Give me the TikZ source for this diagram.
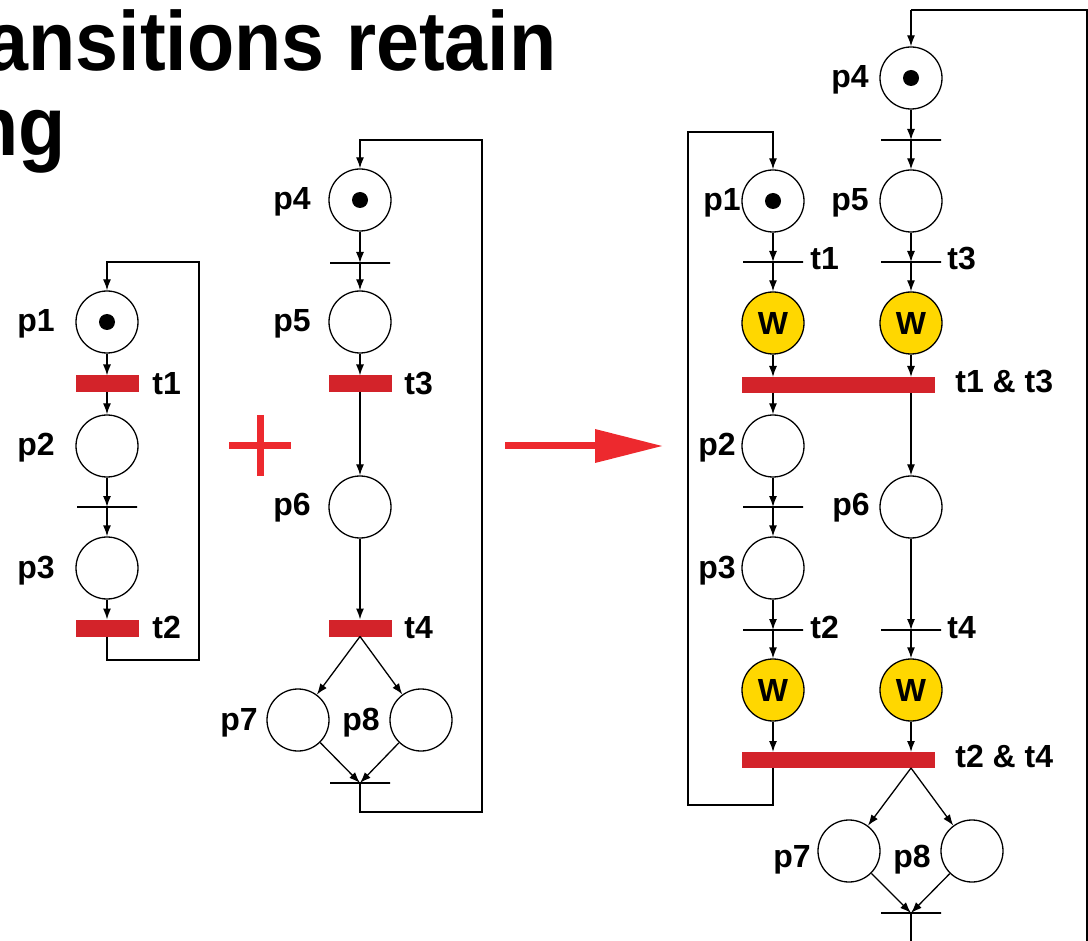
\documentclass[tikz,border=0pt]{standalone}
\usepackage{fontspec}
\setmainfont{Liberation Sans}
\usetikzlibrary{arrows.meta}
\definecolor{barred}{RGB}{211,35,42}
\definecolor{arrred}{RGB}{237,41,46}
\definecolor{wyellow}{RGB}{255,215,0}
\tikzset{
  place/.style={circle, draw, line width=0.65pt, minimum size=31pt, inner sep=0pt},
  wplace/.style={place, fill=wyellow, font=\fontsize{16}{18}\selectfont\bfseries},
  redbar/.style={fill=barred, minimum width=31.5pt, minimum height=8.5pt, inner sep=0pt, outer sep=0pt},
  longbar/.style={redbar, minimum width=96.5pt, minimum height=8pt},
  tline/.style={draw, line width=0.65pt, minimum width=30pt, minimum height=0pt, inner sep=0pt},
  lbl/.style={font=\fontsize{16}{18}\selectfont\bfseries, inner sep=0pt},
  titletext/.style={font=\fontsize{42}{42}\selectfont\bfseries, inner sep=0pt},
  arr/.style={line width=0.65pt, -{Latex[length=5.5pt,width=4pt]}},
  conn/.style={line width=0.65pt},
  tok/.style={fill=black}
}
\begin{document}
\begin{tikzpicture}[x=0.5pt,y=-0.5pt]
\useasboundingbox (0,0) rectangle (1088,941);

% title
\node[titletext, anchor=base east] (title1) at (557,71) {\scalebox{0.92}[1]{ransitions retain}};
\node[titletext, anchor=base east] (title2) at (66,156) {\scalebox{0.92}[1]{ng}};

% ---------------- left net ----------------
\node[place] (p1) at (107,322) {};
\node[redbar] (t1) at (107,384) {};
\node[place] (p2) at (107,446) {};
\node[tline] (ta) at (107,507) {};
\node[place] (p3) at (107,568) {};
\node[redbar] (t2) at (107,628) {};
\fill[tok] (p1.center) circle (4pt);
\coordinate (la) at (107,262);
\coordinate (lb) at (199,262);
\coordinate (lc) at (199,660);
\coordinate (ld) at (107,660);
\draw[arr] (p1) -- (t1);
\draw[arr] (t1) -- (p2);
\draw[arr] (p2) -- (ta.center);
\draw[arr] (ta.center) -- (p3);
\draw[arr] (p3) -- (t2);
\draw[arr] (t2.south) -- (ld) -- (lc) -- (lb) -- (la) -- (p1);
\node[lbl, anchor=base east] (lp1) at (55,332) {p1};
\node[lbl, anchor=base east] (lp2) at (55,456) {p2};
\node[lbl, anchor=base east] (lp3) at (55,578) {p3};
\node[lbl, anchor=base west] (lt1) at (152,394) {t1};
\node[lbl, anchor=base west] (lt2) at (152,638) {t2};

% plus
\draw[arrred, line width=3.5pt] (229,446) -- (291,446) (260,415) -- (260,476);

% ---------------- middle net ----------------
\node[place] (m4) at (360,200) {};
\node[tline] (tb) at (360,263) {};
\node[place] (m5) at (360,322) {};
\node[redbar] (t3) at (360,384) {};
\node[place] (m6) at (360,507) {};
\node[redbar] (t4) at (360,628) {};
\node[place] (m7) at (298,720) {};
\node[place] (m8) at (421,720) {};
\node[tline] (tc) at (360,783) {};
\fill[tok] (m4.center) circle (4pt);
\coordinate (ma) at (360,140);
\coordinate (mb) at (482,140);
\coordinate (mc) at (482,812);
\coordinate (md) at (360,812);
\draw[arr] (m4) -- (tb.center);
\draw[arr] (tb.center) -- (m5);
\draw[arr] (m5) -- (t3);
\draw[arr] (t3) -- (m6);
\draw[arr] (m6) -- (t4);
\draw[arr] (t4.south) -- (m7);
\draw[arr] (t4.south) -- (m8);
\draw[arr] (m7) -- (tc.center);
\draw[arr] (m8) -- (tc.center);
\draw[arr] (tc.center) -- (md) -- (mc) -- (mb) -- (ma) -- (m4);
\node[lbl, anchor=base east] (lm4) at (311,210) {p4};
\node[lbl, anchor=base east] (lm5) at (311,332) {p5};
\node[lbl, anchor=base east] (lm6) at (311,516) {p6};
\node[lbl, anchor=base east] (lm7) at (258,730) {p7};
\node[lbl, anchor=base east] (lm8) at (380,730) {p8};
\node[lbl, anchor=base west] (lt3) at (404,394) {t3};
\node[lbl, anchor=base west] (lt4) at (404,638) {t4};

% big arrow
\coordinate (ba) at (505,446);
\coordinate (bb) at (597,446);
\coordinate (bt) at (662,446);
\draw[arrred, line width=3.5pt] (ba) -- (bb);
\fill[arrred] (595,429) -- (bt) -- (595,463) -- cycle;

% ---------------- right net ----------------
\node[place] (r4) at (911,78) {};
\node[tline] (rd) at (911,140) {};
\node[place] (r5) at (911,201) {};
\node[tline] (rt3) at (911,262) {};
\node[wplace] (w3) at (911,323) {W};
\node[place] (r1) at (773,201) {};
\node[tline] (rt1) at (773,262) {};
\node[wplace] (w1) at (773,323) {W};
\node[longbar] (b13) at (838.5,385) {};
\node[place] (r2) at (773,446) {};
\node[tline] (re) at (773,507) {};
\node[place] (r3) at (773,568) {};
\node[tline] (rt2) at (773,630) {};
\node[wplace] (w2) at (773,690) {W};
\node[place] (r6) at (911,507) {};
\node[tline] (rt4) at (911,630) {};
\node[wplace] (w4) at (911,690) {W};
\node[longbar] (b24) at (838.5,760) {};
\node[place] (r7) at (849,851) {};
\node[place] (r8) at (972,851) {};
\node[tline] (rf) at (911,913) {};
\fill[tok] (r4.center) circle (4pt);
\fill[tok] (r1.center) circle (4pt);

\coordinate (ra) at (911,10);
\coordinate (rb) at (1087,10);
\coordinate (rc) at (1087,960);
\coordinate (rdd) at (911,960);
\coordinate (qa) at (773,132);
\coordinate (qb) at (688,132);
\coordinate (qc) at (688,805);
\coordinate (qd) at (773,805);

\draw[arr] (r4) -- (rd.center);
\draw[arr] (rd.center) -- (r5);
\draw[arr] (r5) -- (rt3.center);
\draw[arr] (rt3.center) -- (w3);
\draw[arr] (w3) -- (w3 |- b13.north);
\draw[arr] (r1) -- (rt1.center);
\draw[arr] (rt1.center) -- (w1);
\draw[arr] (w1) -- (w1 |- b13.north);
\draw[arr] (b13.south -| r2) -- (r2);
\draw[arr] (b13.south -| r6) -- (r6);
\draw[arr] (r2) -- (re.center);
\draw[arr] (re.center) -- (r3);
\draw[arr] (r3) -- (rt2.center);
\draw[arr] (rt2.center) -- (w2);
\draw[arr] (r6) -- (rt4.center);
\draw[arr] (rt4.center) -- (w4);
\draw[arr] (w2) -- (w2 |- b24.north);
\draw[arr] (w4) -- (w4 |- b24.north);
\draw[arr] (b24.south -| w4) -- (r7);
\draw[arr] (b24.south -| w4) -- (r8);
\draw[arr] (r7) -- (rf.center);
\draw[arr] (r8) -- (rf.center);
\draw[conn] (rf.center) -- (rdd) -- (rc) -- (rb) -- (ra);
\draw[arr] (ra) -- (r4);
\draw[arr] (b24.south -| w2) -- (qd) -- (qc) -- (qb) -- (qa) -- (r1);

\node[lbl, anchor=base east] (lr4) at (869,88) {p4};
\node[lbl, anchor=base east] (lr1) at (741,211) {p1};
\node[lbl, anchor=base east] (lr5) at (869,211) {p5};
\node[lbl, anchor=base west] (lrt1) at (810,270) {t1};
\node[lbl, anchor=base west] (lrt3) at (947,270) {t3};
\node[lbl, anchor=base west] (lb13) at (955,393) {t1 \& t3};
\node[lbl, anchor=base east] (lr2) at (736,456) {p2};
\node[lbl, anchor=base east] (lr6) at (870,516) {p6};
\node[lbl, anchor=base east] (lr3) at (736,578) {p3};
\node[lbl, anchor=base west] (lrt2) at (810,638) {t2};
\node[lbl, anchor=base west] (lrt4) at (947,638) {t4};
\node[lbl, anchor=base west] (lb24) at (955,767) {t2 \& t4};
\node[lbl, anchor=base east] (lr7) at (811,867) {p7};
\node[lbl, anchor=base east] (lr8) at (931,867) {p8};
\end{tikzpicture}
\end{document}
